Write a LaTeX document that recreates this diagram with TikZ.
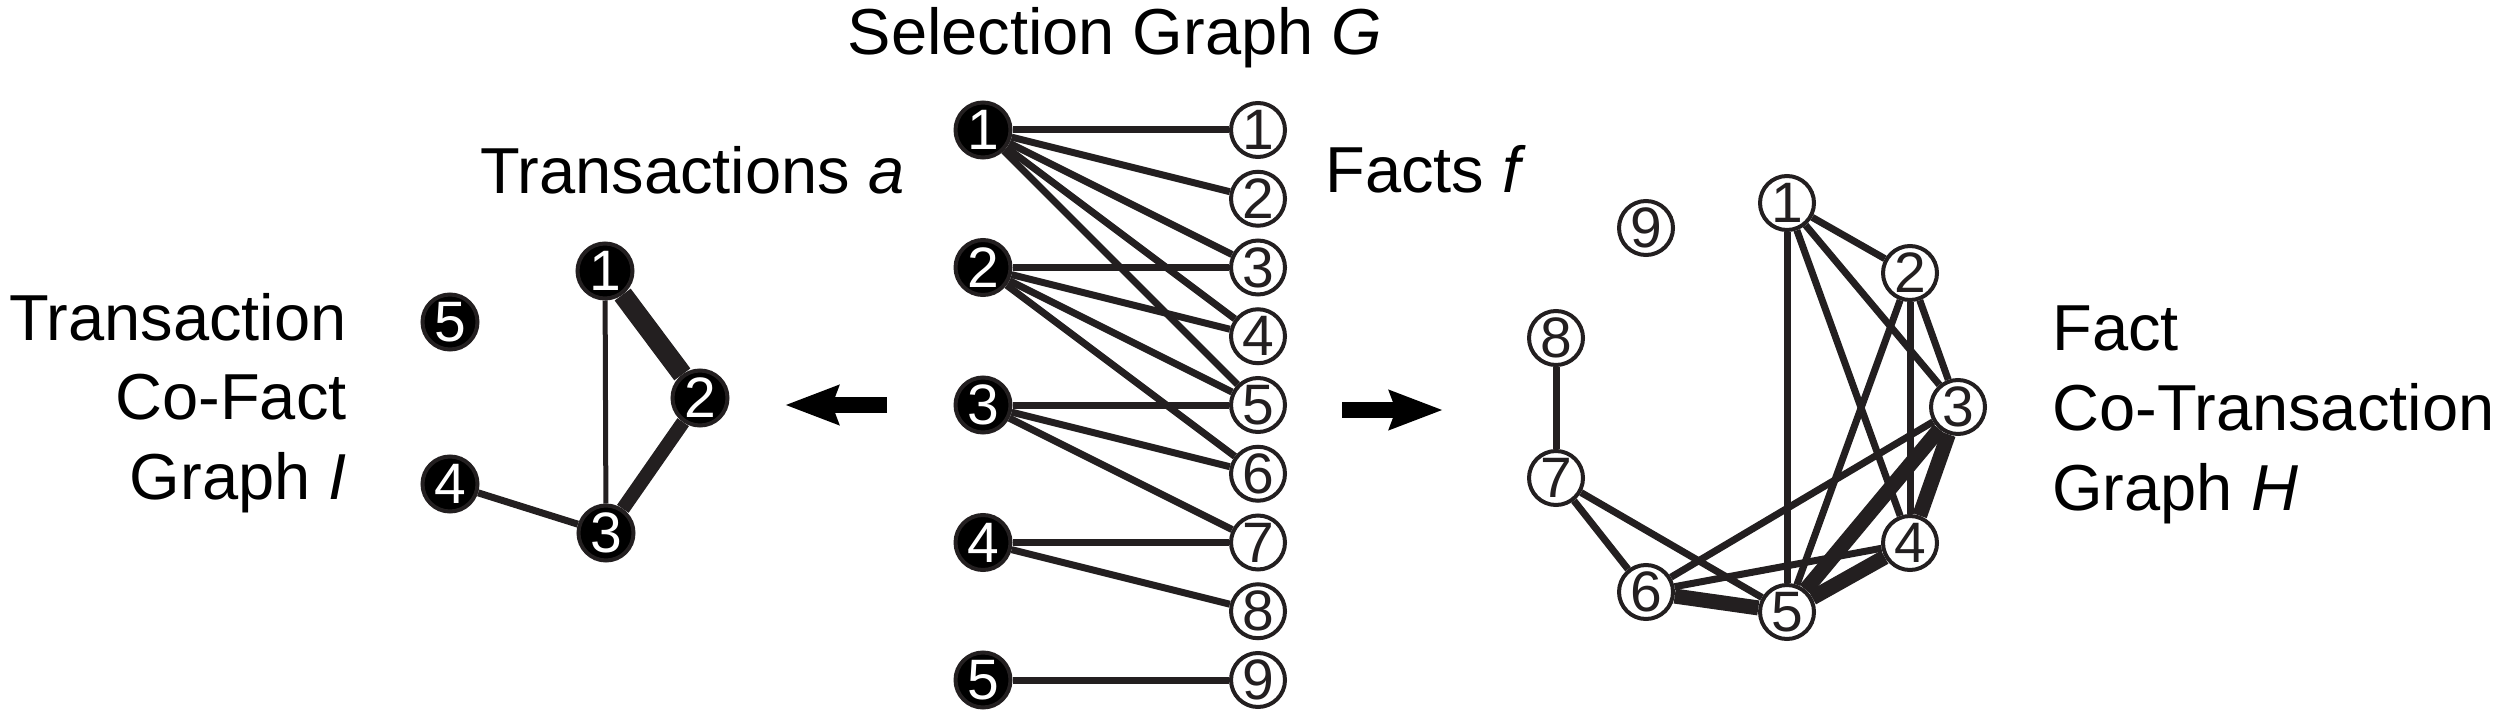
\documentclass[tikz,border=0pt]{standalone}
\usepackage{fontspec}
\setmainfont{Liberation Sans}
\usetikzlibrary{arrows.meta,backgrounds}
\definecolor{ink}{RGB}{35,31,32}
\begin{document}
\begin{tikzpicture}[x=0.5pt,y=-0.5pt,
  tnode/.style={circle,fill=black,draw=ink,line width=2pt,minimum size=27.5pt,inner sep=0pt,text=white,font=\fontsize{28.5}{28.5}\selectfont},
  fnode/.style={circle,fill=white,draw=ink,line width=2pt,minimum size=27pt,inner sep=0pt,text=ink,font=\fontsize{28.5}{28.5}\selectfont},
  lbl/.style={inner sep=0pt,font=\fontsize{32.5}{39}\selectfont},
  edge1/.style={draw=ink,line width=3.5pt},
  edgeH/.style={draw=ink,line width=7.5pt},
  bigarrow/.style={draw=black,line width=8pt,-{Stealth[length=26.5pt,width=19pt,inset=3pt]}}
]
\useasboundingbox (0,0) rectangle (2506,717);

% labels
\node[lbl,anchor=base] (title) at (1115,55) {Selection Graph \textit{G}};
\node[lbl,anchor=base west] (ta) at (480,193) {Transactions \textit{a}};
\node[lbl,anchor=base west] (ff) at (1325,192) {Facts \textit{f}};
\node[lbl,anchor=base east] (l1) at (347,340) {Transaction};
\node[lbl,anchor=base east] (l2) at (347,419) {Co-Fact};
\node[lbl,anchor=base east] (l3) at (347,499) {Graph \textit{I}};
\node[lbl,anchor=base west] (r1) at (2052,350) {Fact};
\node[lbl,anchor=base west] (r2) at (2052,430) {Co-Transaction};
\node[lbl,anchor=base west] (r3) at (2052,510) {Graph \textit{H}};

% selection graph G
\foreach \i/\y in {1/130,2/267.5,3/405,4/542.5,5/680}
  \node[tnode] (t\i) at (983,\y) {\i};
\foreach \i in {1,...,9}
  \node[fnode] (f\i) at (1258,{130+68.75*(\i-1)}) {\i};

% transaction co-fact graph I
\node[tnode] (i1) at (605,271) {1};
\node[tnode] (i2) at (700,398) {2};
\node[tnode] (i3) at (606,533) {3};
\node[tnode] (i4) at (450,484) {4};
\node[tnode] (i5) at (450,322) {5};

% fact co-transaction graph H
\node[fnode] (h1) at (1787,203) {1};
\node[fnode] (h2) at (1910,273) {2};
\node[fnode] (h3) at (1958,407) {3};
\node[fnode] (h4) at (1910,543) {4};
\node[fnode] (h5) at (1787,612) {5};
\node[fnode] (h6) at (1646,592) {6};
\node[fnode] (h7) at (1556,478) {7};
\node[fnode] (h8) at (1556,338) {8};
\node[fnode] (h9) at (1646,228) {9};

% arrows
\coordinate (la1) at (887,405);
\coordinate (la2) at (785,405);
\coordinate (ra1) at (1342,410);
\coordinate (ra2) at (1443,410);
\draw[bigarrow] (la1) -- (la2);
\draw[bigarrow] (ra1) -- (ra2);

\begin{scope}[on background layer]
  \foreach \a/\b in {1/1,1/2,1/3,1/4,1/5,2/3,2/4,2/5,2/6,3/5,3/6,3/7,4/7,4/8,5/9}
    \draw[edge1] (t\a) -- (f\b);
  % I
  \draw[draw=ink,line width=10pt] (i1) -- (i2);
  \draw[draw=ink,line width=7pt] (i2) -- (i3);
  \draw[draw=ink,line width=2.5pt] (i1) -- (i3);
  \draw[draw=ink,line width=3.5pt] (i3) -- (i4);
  % H
  \foreach \a/\b in {1/2,1/3,1/4,1/5,2/3,2/4,2/5,3/6,4/6,5/7,6/7,7/8}
    \draw[edge1] (h\a) -- (h\b);
  \foreach \a/\b in {3/4,3/5,4/5,5/6}
    \draw[edgeH] (h\a) -- (h\b);
\end{scope}
\end{tikzpicture}
\end{document}
